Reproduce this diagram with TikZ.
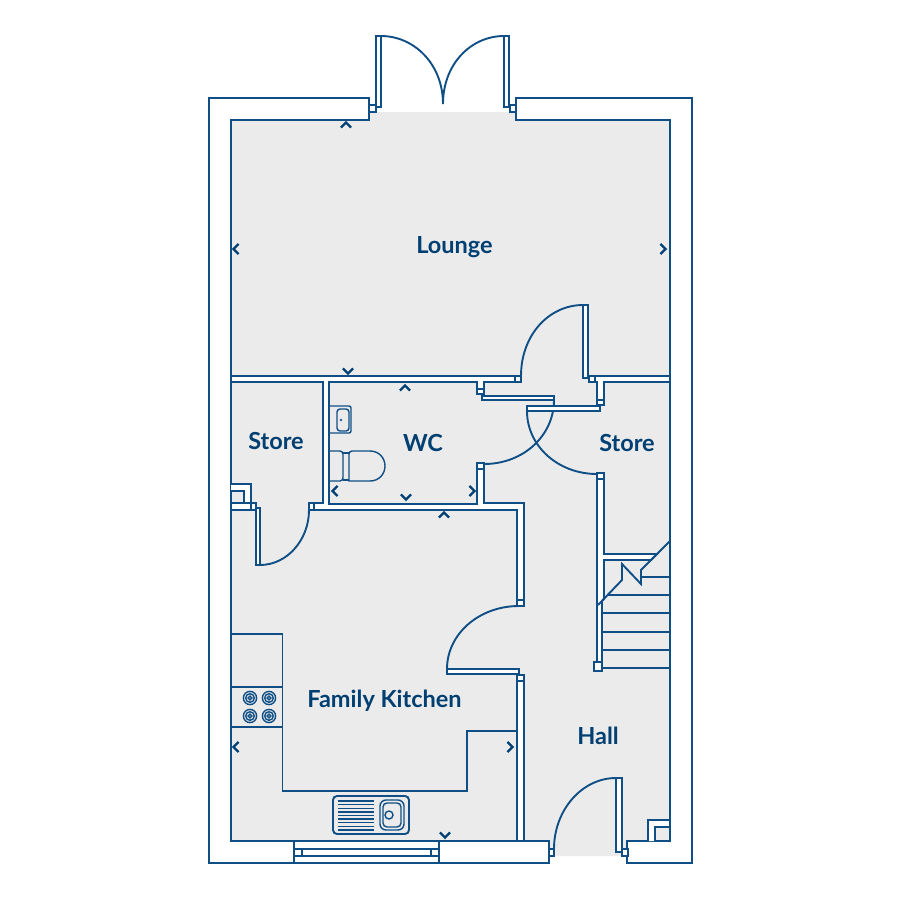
\documentclass[tikz,border=0pt]{standalone}
\usepackage{fontspec}
\setmainfont{Lato}
\definecolor{planblue}{HTML}{0F4F86}
\definecolor{labelblue}{HTML}{003F72}
\definecolor{floorgrey}{HTML}{EBEBEB}
\tikzset{
  wall/.style={draw=planblue,line width=1.9pt,line join=miter,fill=white},
  ln/.style={draw=planblue,line width=1.9pt,line join=miter},
  thin ln/.style={draw=planblue,line width=1.4pt},
  swing/.style={draw=planblue,line width=1.9pt},
  chev/.style={draw=labelblue,line width=2.3pt,line join=miter},
  room/.style={text=labelblue,font=\bfseries\fontsize{23.5}{26}\selectfont,inner sep=0pt}
}
\newcommand{\chev}[3]{\draw[chev,shift={(#1,#2)},rotate=#3] (-5,2.6)--(0,-2.6)--(5,2.6);}
\newcommand{\hob}[2]{\draw[thin ln] (#1,#2) circle (6.6) circle (4.3) circle (1.9);}
\begin{document}
\begin{tikzpicture}[x=1pt,y=-1pt]
\useasboundingbox (0,0) rectangle (900,900);
\fill[white] (0,0) rectangle (900,900);
% floor
\fill[floorgrey] (231,120)--(369,120)--(369,112)--(516,112)--(516,120)--(670,120)--(670,841)--(628,841)--(628,856)--(549,856)--(549,841)--(231,841)--cycle;
% outer wall
\draw[ln] (369,120)--(369,98)--(209,98)--(209,863)--(549,863)--(549,841)--(231,841)--(231,120)--cycle;
\draw[ln] (516,120)--(516,98)--(692,98)--(692,863)--(627,863)--(627,841)--(670,841)--(670,120)--cycle;
% french doors
\draw[wall] (369,105) rectangle (376,112);
\draw[wall] (376,36) rectangle (381,107);
\draw[wall] (504,36) rectangle (509,107);
\draw[wall] (510,105) rectangle (516,112);
\draw[swing] (381,36) .. controls (414,36) and (443,64) .. (443,104);
\draw[swing] (504,36) .. controls (471,36) and (443,64) .. (443,104);
% internal walls
\draw[wall] (231,376)--(521,376)--(521,382)--(484,382)--(484,394)--(477,394)--(477,382)--(329,382)--(329,504)--(477,504)--(477,463)--(484,463)--(484,503)--(524,503)--(524,606)--(517,606)--(517,510)--(309,510)--(309,503)--(323,503)--(323,382)--(231,382)--cycle;
\draw[ln] (515,376)--(515,382) (477,389)--(484,389) (477,469)--(484,469) (517,600)--(524,600) (314,503)--(314,510);
\draw[wall] (589,376)--(670,376)--(670,382)--(604,382)--(604,405)--(597,405)--(597,382)--(589,382)--cycle;
\draw[ln] (595,376)--(595,382) (597,400)--(604,400);
\draw[wall] (517,675)--(524,675)--(524,841)--(517,841)--cycle;
\draw[ln] (517,681)--(524,681);
% store cupboard and stub
\draw[wall] (231,484)--(251,484)--(251,503)--(244,503)--(244,491)--(231,491);
\draw[wall] (231,503)--(256,503)--(256,510)--(231,510)--cycle;
\draw[ln] (251,503)--(251,510);
% hall cupboard
\draw[wall] (648,841)--(648,820)--(670,820)--(670,827)--(655,827)--(655,841);
% stair wall
\draw[wall] (597,473)--(604,473)--(604,554)--(657,554)--(651,560)--(604,560)--(604,599)--(602,601)--(602,662)--(597,662)--cycle;
\draw[ln] (597,479)--(604,479);
\draw[ln] (598,605)--(622,580)--(622,564)--(641,584)--(641,570)--(670,541);
\draw[ln] (641,577)--(670,577) (607,595)--(670,595) (602,613)--(670,613) (602,632)--(670,632) (602,650)--(670,650) (602,668)--(670,668);
\draw[wall] (594,662) rectangle (602,671);
% door leaves
\draw[wall] (583,305) rectangle (588,378);
\draw[swing] (583,305) .. controls (549,305) and (521,335) .. (521,376);
\draw[wall] (482,396) rectangle (554,400);
\draw[swing] (554,400) .. controls (554,435) and (524,464) .. (484,464);
\draw[wall] (527,406) rectangle (600,411);
\draw[swing] (527,411) .. controls (527,446) and (558,474) .. (597,474);
\draw[wall] (256,508) rectangle (260,565);
\draw[swing] (260,565) .. controls (287,565) and (309,540) .. (309,510);
\draw[wall] (447,669) rectangle (519,674);
\draw[swing] (447,669) .. controls (447,634) and (479,606) .. (519,606);
\draw[wall] (616,778) rectangle (622,852);
\draw[swing] (554,849) .. controls (554,810) and (582,778) .. (616,778);
\draw[wall] (549,849) rectangle (554,856);
\draw[wall] (622,849) rectangle (628,856);
% window
\draw[wall] (294,841) rectangle (439,863);
\draw[ln] (294,849)--(439,849) (294,856)--(439,856) (302,849)--(302,856) (431,849)--(431,856);
\fill[white] (303,850) rectangle (430,855);
% kitchen units
\draw[ln] (231,634)--(282.5,634)--(282.5,791)--(467,791)--(467,731)--(517,731);
\draw[ln] (231,687)--(282.5,687) (231,727)--(282.5,727);
\hob{250}{698}\hob{269}{698}\hob{250}{716}\hob{269}{716}
% sink
\draw[ln,rounded corners=4pt] (333,796) rectangle (409,834);
\foreach \yy in {801,804.6,...,831}{\draw[thin ln] (338,\yy)--(374,\yy);}
\draw[thin ln,rounded corners=6pt] (380,800) rectangle (404,830);
\draw[thin ln,rounded corners=4pt] (383,803) rectangle (401,827);
\draw[thin ln] (389,815) circle (4);
% WC fixtures
\draw[thin ln,rounded corners=2pt] (329,406)--(351,406)--(351,433)--(329,433);
\draw[thin ln,rounded corners=3pt] (337,409) rectangle (349,431);
\draw[draw=planblue,line width=.6pt] (341,420) circle (1);
\draw[thin ln,rounded corners=3pt] (329,451)--(343,451)--(343,481)--(329,481);
\draw[thin ln] (343,453)--(349,453) (343,480)--(349,480);
\draw[thin ln] (349,481) [rounded corners=3pt] --(349,451)[sharp corners] --(370,451) .. controls (379,451) and (385,458) .. (385,466) .. controls (385,474) and (379,481) .. (370,481) --cycle;
% level markers
\chev{346}{125}{0}
\chev{236}{249}{90}
\chev{663}{249}{-90}
\chev{348}{371}{180}
\chev{405}{388}{0}
\chev{335}{491}{90}
\chev{406}{497}{180}
\chev{472}{491}{-90}
\chev{444}{515}{0}
\chev{236}{747}{90}
\chev{510}{747}{-90}
\chev{445}{835}{180}
% labels
\node[room] (lounge) at (454.5,247) {Lounge};
\node[room] (store1) at (276,441) {Store};
\node[room] (wc) at (423,443) {WC};
\node[room] (store2) at (627,443) {Store};
\node[room] (kitchen) at (384.5,701) {Family Kitchen};
\node[room] (hall) at (598,736) {Hall};
\end{tikzpicture}
\end{document}
